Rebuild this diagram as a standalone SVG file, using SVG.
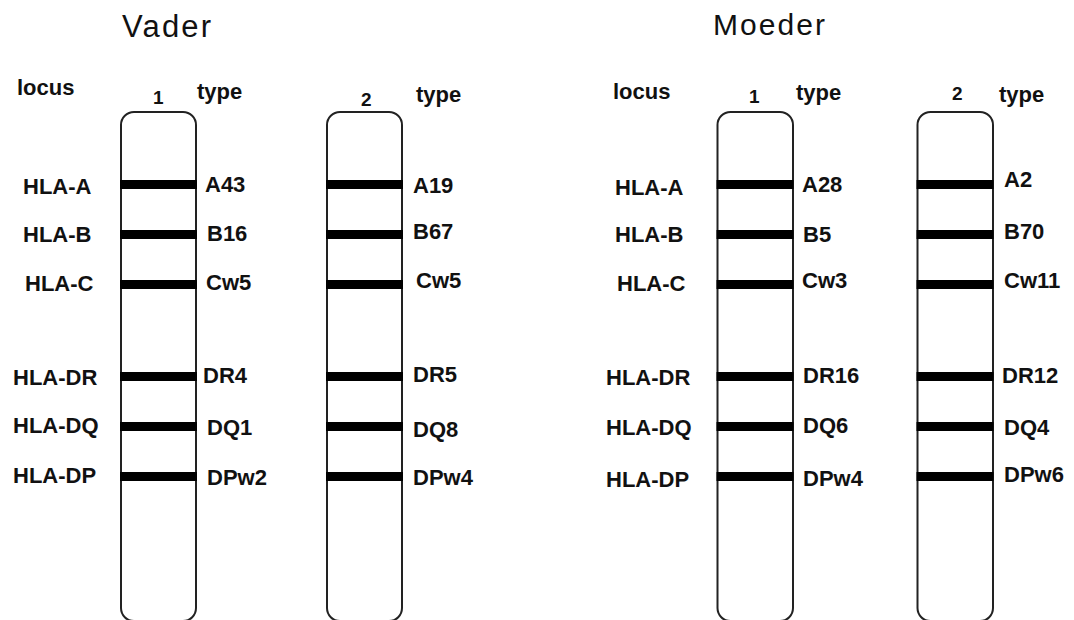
<svg xmlns="http://www.w3.org/2000/svg" width="1074" height="620" viewBox="0 0 1074 620">
<style>
  .title { font-family: "Liberation Sans", Arial, sans-serif; font-size: 30px; fill: #111; }
  .lbl { font-family: "Liberation Sans", Arial, sans-serif; font-size: 22px; font-weight: bold; fill: #111; }
  .num { font-family: "Liberation Sans", Arial, sans-serif; font-size: 19px; font-weight: bold; fill: #111; }
  .chrom { fill: #fff; stroke: #222; stroke-width: 2; }
  .band { fill: #000; }
</style>
<defs>
  <g id="bands">
    <rect class="band" x="-1" y="180" width="77" height="9"/>
    <rect class="band" x="-1" y="230" width="77" height="9"/>
    <rect class="band" x="-1" y="280" width="77" height="9"/>
    <rect class="band" x="-1" y="372" width="77" height="9"/>
    <rect class="band" x="-1" y="422" width="77" height="9"/>
    <rect class="band" x="-1" y="472" width="77" height="9"/>
  </g>
</defs>
<rect width="1074" height="620" fill="#fff"/>

<g id="vader">
  <text class="title" x="122" y="37" textLength="89" lengthAdjust="spacing" style="font-size:31px">Vader</text>
  <g id="vader-locus">
    <text class="lbl" x="17" y="95">locus</text>
    <text class="lbl" x="23" y="194">HLA-A</text>
    <text class="lbl" x="23" y="242">HLA-B</text>
    <text class="lbl" x="25" y="291">HLA-C</text>
    <text class="lbl" x="13" y="385">HLA-DR</text>
    <text class="lbl" x="13" y="433">HLA-DQ</text>
    <text class="lbl" x="13" y="483">HLA-DP</text>
  </g>
  <g id="vader-chrom1">
    <text class="num" x="153" y="104">1</text>
    <rect class="chrom" x="121" y="112" width="75" height="509" rx="13" ry="13"/>
    <use href="#bands" x="121"/>
    <text class="lbl" x="197" y="99">type</text>
    <text class="lbl" x="205" y="192">A43</text>
    <text class="lbl" x="207" y="241">B16</text>
    <text class="lbl" x="206" y="290">Cw5</text>
    <text class="lbl" x="203" y="383">DR4</text>
    <text class="lbl" x="207" y="435">DQ1</text>
    <text class="lbl" x="207" y="485">DPw2</text>
  </g>
  <g id="vader-chrom2">
    <text class="num" x="361" y="106">2</text>
    <rect class="chrom" x="327" y="112" width="75" height="509" rx="13" ry="13"/>
    <use href="#bands" x="327"/>
    <text class="lbl" x="416" y="102">type</text>
    <text class="lbl" x="413" y="193">A19</text>
    <text class="lbl" x="413" y="239">B67</text>
    <text class="lbl" x="416" y="288">Cw5</text>
    <text class="lbl" x="413" y="382">DR5</text>
    <text class="lbl" x="413" y="437">DQ8</text>
    <text class="lbl" x="413" y="485">DPw4</text>
  </g>
</g>

<g id="moeder">
  <text class="title" x="713" y="35" textLength="112" lengthAdjust="spacing">Moeder</text>
  <g id="moeder-locus">
    <text class="lbl" x="613" y="99">locus</text>
    <text class="lbl" x="615" y="195">HLA-A</text>
    <text class="lbl" x="615" y="242">HLA-B</text>
    <text class="lbl" x="617" y="291">HLA-C</text>
    <text class="lbl" x="606" y="385">HLA-DR</text>
    <text class="lbl" x="606" y="435">HLA-DQ</text>
    <text class="lbl" x="606" y="487">HLA-DP</text>
  </g>
  <g id="moeder-chrom1">
    <text class="num" x="749" y="103">1</text>
    <rect class="chrom" x="717.5" y="112" width="75.5" height="509" rx="13" ry="13"/>
    <use href="#bands" x="717.5"/>
    <text class="lbl" x="796" y="100">type</text>
    <text class="lbl" x="802" y="192">A28</text>
    <text class="lbl" x="803" y="242">B5</text>
    <text class="lbl" x="802" y="288">Cw3</text>
    <text class="lbl" x="803" y="383">DR16</text>
    <text class="lbl" x="803" y="433">DQ6</text>
    <text class="lbl" x="803" y="486">DPw4</text>
  </g>
  <g id="moeder-chrom2">
    <text class="num" x="952" y="100">2</text>
    <rect class="chrom" x="917.5" y="112" width="75.5" height="509" rx="13" ry="13"/>
    <use href="#bands" x="917.5"/>
    <text class="lbl" x="999" y="102">type</text>
    <text class="lbl" x="1004" y="187">A2</text>
    <text class="lbl" x="1004" y="239">B70</text>
    <text class="lbl" x="1004" y="288">Cw11</text>
    <text class="lbl" x="1002" y="383">DR12</text>
    <text class="lbl" x="1004" y="435">DQ4</text>
    <text class="lbl" x="1004" y="482">DPw6</text>
  </g>
</g>

<g id="connectors"></g>
</svg>
